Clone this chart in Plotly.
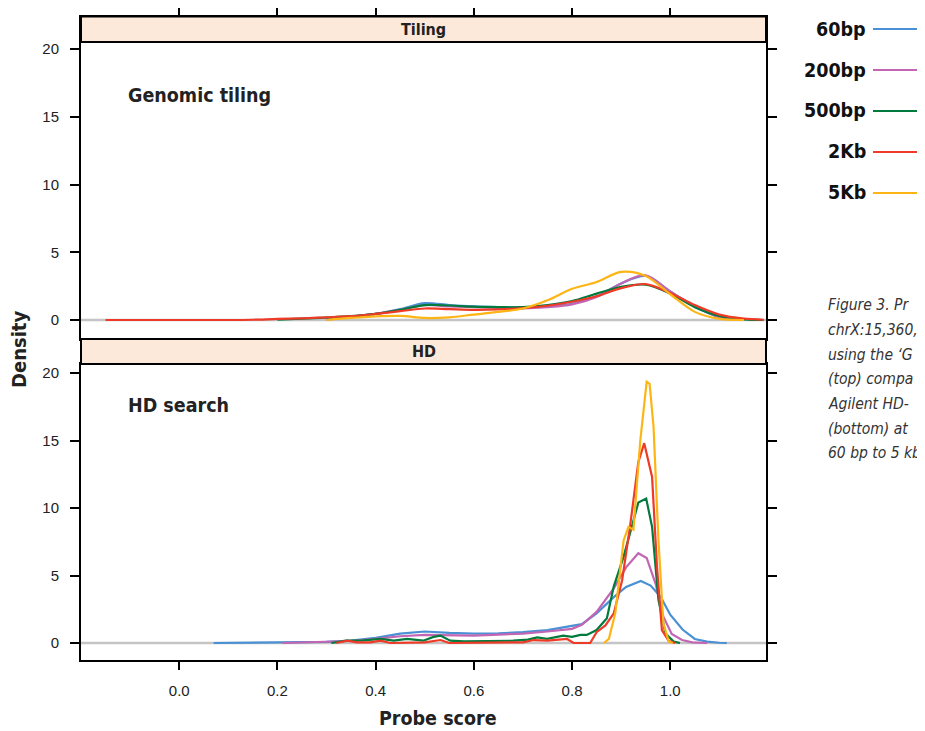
import plotly.graph_objects as go

# ---------------- data ----------------
SERIES = ["60bp", "200bp", "500bp", "2Kb", "5Kb"]
COLORS = ["#4A90D4", "#C266B4", "#007A3D", "#EE3A26", "#FDB515"]

# Top panel (Tiling) common probe-score grid
TILE_SCORE = [-0.15, -0.10, -0.05, 0.00, 0.05, 0.10, 0.15, 0.20, 0.25, 0.30, 0.35, 0.40, 0.45,
              0.50, 0.55, 0.60, 0.65, 0.70, 0.75, 0.80, 0.85, 0.90, 0.95, 1.00, 1.05, 1.10,
              1.15, 1.19]
N = None
TILE_60BP = [N, N, N, N, N, N, N, N, N, 0.05, 0.25, 0.45, 0.8, 1.25, 1.1, 1.0, 0.95, 0.93, 1.0,
             1.2, 1.75, 2.7, 3.25, 2.1, 1.0, 0.22, 0.02, N]
TILE_200BP = [N, N, N, N, N, N, N, N, N, 0.05, 0.25, 0.45, 0.75, 1.1, 1.0, 0.95, 0.9, 0.86, 0.95,
              1.15, 1.7, 2.7, 3.3, 2.1, 1.0, 0.22, 0.02, N]
TILE_500BP = [N, N, N, N, N, N, N, 0.03, 0.1, 0.18, 0.28, 0.45, 0.75, 1.1, 1.07, 0.98, 0.95, 0.95,
              1.1, 1.4, 1.95, 2.45, 2.6, 1.95, 0.95, 0.3, 0.05, 0.0]
TILE_2KB = [0.0, 0.0, 0.0, 0.0, 0.0, 0.0, 0.02, 0.08, 0.12, 0.2, 0.28, 0.45, 0.65, 0.85, 0.8, 0.75,
            0.78, 0.88, 1.05, 1.35, 1.75, 2.35, 2.65, 2.0, 1.1, 0.4, 0.1, 0.02]
TILE_5KB = [N, N, N, N, N, N, N, N, N, 0.0, 0.15, 0.27, 0.3, 0.15, 0.2, 0.4, 0.6, 0.85, 1.45,
            2.3, 2.8, 3.55, 3.25, 1.9, 0.6, 0.08, 0.0, N]
TILE_Y = [TILE_60BP, TILE_200BP, TILE_500BP, TILE_2KB, TILE_5KB]

# Bottom panel (HD search)
HD_X_60BP = [0.07, 0.30, 0.35, 0.40, 0.45, 0.50, 0.55, 0.60, 0.65, 0.70, 0.75, 0.80, 0.82, 0.85,
             0.885, 0.91, 0.94, 0.96, 0.98, 1.00, 1.025, 1.05, 1.075, 1.10, 1.115]
HD_Y_60BP = [0.0, 0.08, 0.18, 0.38, 0.7, 0.85, 0.75, 0.7, 0.72, 0.8, 0.95, 1.25, 1.4, 2.2,
             3.4, 4.15, 4.6, 4.25, 3.45, 2.1, 1.0, 0.3, 0.1, 0.02, 0.0]
HD_X_200BP = [0.21, 0.30, 0.35, 0.40, 0.45, 0.50, 0.55, 0.60, 0.65, 0.70, 0.75, 0.80, 0.82, 0.85,
              0.885, 0.91, 0.935, 0.952, 0.97, 0.986, 1.003, 1.024, 1.045, 1.075]
HD_Y_200BP = [0.0, 0.08, 0.15, 0.3, 0.5, 0.6, 0.55, 0.55, 0.62, 0.7, 0.85, 1.05, 1.35, 2.3,
              4.05, 5.6, 6.65, 6.3, 4.4, 1.95, 0.67, 0.22, 0.05, 0.0]
HD_X_500BP = [0.31, 0.34, 0.375, 0.41, 0.437, 0.464, 0.497, 0.518, 0.532, 0.552, 0.58, 0.613, 0.65,
              0.68, 0.71, 0.729, 0.749, 0.782, 0.80, 0.817, 0.83, 0.85, 0.871, 0.885, 0.905, 0.922,
              0.935, 0.951, 0.963, 0.976, 0.99, 1.007, 1.02]
HD_Y_500BP = [0.0, 0.17, 0.2, 0.3, 0.17, 0.3, 0.17, 0.45, 0.55, 0.17, 0.12, 0.12, 0.15,
              0.17, 0.25, 0.42, 0.3, 0.55, 0.45, 0.6, 0.6, 0.96, 1.83, 4.2, 6.4, 8.6,
              10.4, 10.7, 8.6, 3.2, 0.72, 0.1, 0.0]
HD_X_2KB = [0.32, 0.342, 0.362, 0.389, 0.41, 0.43, 0.50, 0.532, 0.55, 0.70, 0.722, 0.75, 0.79,
            0.803, 0.837, 0.85, 0.868, 0.885, 0.902, 0.918, 0.935, 0.947, 0.963, 0.973, 0.983,
            0.997, 1.01]
HD_Y_2KB = [0.0, 0.17, 0.05, 0.05, 0.17, 0.0, 0.05, 0.22, 0.0, 0.05, 0.22, 0.17, 0.3,
            0.0, 0.0, 0.8, 1.3, 2.2, 4.65, 8.6, 13.4, 14.8, 12.3, 5.65, 0.96,
            0.15, 0.0]
HD_X_5KB = [0.865, 0.875, 0.888, 0.905, 0.915, 0.925, 0.939, 0.952, 0.958, 0.966, 0.976, 0.986,
            0.997, 1.005]
HD_Y_5KB = [0.0, 0.3, 2.2, 7.6, 8.6, 8.4, 15.0, 19.35, 19.2, 16.0, 7.6, 1.46, 0.1, 0.0]
HD_X = [HD_X_60BP, HD_X_200BP, HD_X_500BP, HD_X_2KB, HD_X_5KB]
HD_Y = [HD_Y_60BP, HD_Y_200BP, HD_Y_500BP, HD_Y_2KB, HD_Y_5KB]

X_TICKS = [0.0, 0.2, 0.4, 0.6, 0.8, 1.0]
X_TICK_LABELS = ["0.0", "0.2", "0.4", "0.6", "0.8", "1.0"]
Y_TICKS = [0, 5, 10, 15, 20]
PANEL_STRIPS = ["Tiling", "HD"]
PANEL_TITLES = ["Genomic tiling", "HD search"]
# caption as visible at the right edge of the page
CAPTION = ["Figure 3. Pr",
           "chrX:15,360,",
           "using the ‘G",
           "(top) compa",
           "Agilent HD-",
           "(bottom) at",
           "60 bp to 5 kb"]

# ---------------- layout helpers ----------------
# the page body has an 8px margin, so the figure starts at (8, 8) of the window
OFF = 8
W, H = 925 - OFF, 731 - OFF
def px(x): return (x - OFF) / W
def py(y): return 1 - (y - OFF) / H

COND = "DejaVu Sans Condensed, Liberation Sans Narrow, Arial Narrow, sans-serif"
REG = "Liberation Sans, Arial, sans-serif"

PL, PR = 81, 766
TOP_T, TOP_B = 42, 339
BOT_T, BOT_B = 364, 660
STRIP1_T = 16.5

fig = go.Figure()

for name, color, ys in zip(SERIES, COLORS, TILE_Y):
    fig.add_trace(go.Scatter(x=TILE_SCORE, y=ys, mode="lines", name=name,
                             line=dict(color=color, width=2.2, shape="spline", smoothing=0.9),
                             xaxis="x2", yaxis="y2", showlegend=False, connectgaps=False))
for name, color, xs, ys in zip(SERIES, COLORS, HD_X, HD_Y):
    fig.add_trace(go.Scatter(x=xs, y=ys, mode="lines", name=name,
                             line=dict(color=color, width=2.2),
                             xaxis="x", yaxis="y", showlegend=False))

XR = [-0.2, 1.195]
# y scale: top panel 0 at y=320, 20 at y=49 ; bottom panel 0 at y=643, 20 at y=373
TOP_PPU = (320 - 49) / 20
BOT_PPU = (643 - 373) / 20
TOP_YR = [-(TOP_B - 320) / TOP_PPU, (320 - STRIP1_T) / TOP_PPU]
BOT_YR = [-(BOT_B - 643) / BOT_PPU, (643 - BOT_T) / BOT_PPU]

tickfont = dict(family=REG, size=15, color="#222")
fig.update_layout(
    width=W, height=H, margin=dict(l=0, r=0, t=0, b=0),
    paper_bgcolor="white", plot_bgcolor="white",
    xaxis=dict(domain=[px(PL), px(PR)], range=XR, anchor="y", tickvals=X_TICKS,
               ticktext=X_TICK_LABELS, ticks="outside", ticklen=8, tickwidth=2, tickcolor="black",
               ticklabelstandoff=8, tickfont=tickfont,
               showgrid=False, zeroline=False, showline=True, linecolor="black", linewidth=2,
               mirror=True),
    xaxis2=dict(domain=[px(PL), px(PR)], range=XR, anchor="y2", side="top", tickvals=X_TICKS,
                showticklabels=False, ticks="outside", ticklen=9, tickwidth=2, tickcolor="black",
                showgrid=False, zeroline=False, showline=True, linecolor="black", linewidth=2,
                mirror=True),
    yaxis=dict(domain=[py(BOT_B), py(BOT_T)], range=BOT_YR, anchor="x", tickvals=Y_TICKS,
               ticks="outside", ticklen=9, tickwidth=2, tickcolor="black",
               ticklabelstandoff=8, tickfont=tickfont,
               showgrid=False, zeroline=False, showline=True, linecolor="black", linewidth=2,
               mirror="ticks"),
    yaxis2=dict(domain=[py(TOP_B), py(STRIP1_T)], range=TOP_YR, anchor="x2", tickvals=Y_TICKS,
                ticks="outside", ticklen=9, tickwidth=2, tickcolor="black",
                ticklabelstandoff=8, tickfont=tickfont,
                showgrid=False, zeroline=False, showline=True, linecolor="black", linewidth=2,
                mirror="ticks"),
)

shapes = []
# zero reference lines
for xr, yr in (("x domain", "y"), ("x2 domain", "y2")):
    shapes.append(dict(type="line", xref=xr, yref=yr, x0=0, x1=1, y0=0, y1=0,
                       line=dict(color="#C4C4C4", width=2.5), layer="below"))
# strips
STRIPS = ((STRIP1_T, TOP_T), (TOP_B, BOT_T))
for (t, b) in STRIPS:
    shapes.append(dict(type="rect", xref="paper", yref="paper", x0=px(PL), x1=px(PR),
                       y0=py(b), y1=py(t), fillcolor="#FDE9D9",
                       line=dict(color="black", width=2), layer="above"))
annotations = []
for text, (t, b) in zip(PANEL_STRIPS, STRIPS):
    annotations.append(dict(text="<b>%s</b>" % text, xref="paper", yref="paper",
                            x=px((PL + PR) / 2), y=py((t + b) / 2), showarrow=False,
                            font=dict(family=COND, size=16, color="#222"),
                            xanchor="center", yanchor="middle"))
for text, yy in zip(PANEL_TITLES, (95, 405)):
    annotations.append(dict(text="<b>%s</b>" % text, xref="paper", yref="paper",
                            x=px(126), y=py(yy), showarrow=False,
                            font=dict(family=COND, size=19.5, color="#222"),
                            xanchor="left", yanchor="middle"))
# axis titles
annotations.append(dict(text="<b>Density</b>", xref="paper", yref="paper", x=px(19), y=py(350),
                        showarrow=False, textangle=-90,
                        font=dict(family=COND, size=20, color="#222"),
                        xanchor="center", yanchor="middle"))
annotations.append(dict(text="<b>Probe score</b>", xref="paper", yref="paper", x=px(438),
                        y=py(718), showarrow=False,
                        font=dict(family=COND, size=19.5, color="#222"),
                        xanchor="center", yanchor="middle"))
# legend
LEG_Y = [29, 70, 111, 152, 193]
for name, color, ly in zip(SERIES, COLORS, LEG_Y):
    annotations.append(dict(text="<b>%s</b>" % name, xref="paper", yref="paper", x=px(868),
                            y=py(ly), showarrow=False,
                            font=dict(family=COND, size=19.5, color="#111"),
                            xanchor="right", yanchor="middle"))
    shapes.append(dict(type="line", xref="paper", yref="paper", x0=px(873), x1=px(930),
                       y0=py(ly), y1=py(ly), line=dict(color=color, width=2.2)))
# caption
CAP_Y = [305, 330, 355, 379, 404, 429, 453]
for line, cy in zip(CAPTION, CAP_Y):
    annotations.append(dict(text="<i>%s</i>" % line, xref="paper", yref="paper", x=px(826),
                            y=py(cy), showarrow=False,
                            font=dict(family=COND, size=15.5, color="#333"),
                            xanchor="left", yanchor="middle"))

fig.update_layout(shapes=shapes, annotations=annotations)
fig.write_html("out.html")
